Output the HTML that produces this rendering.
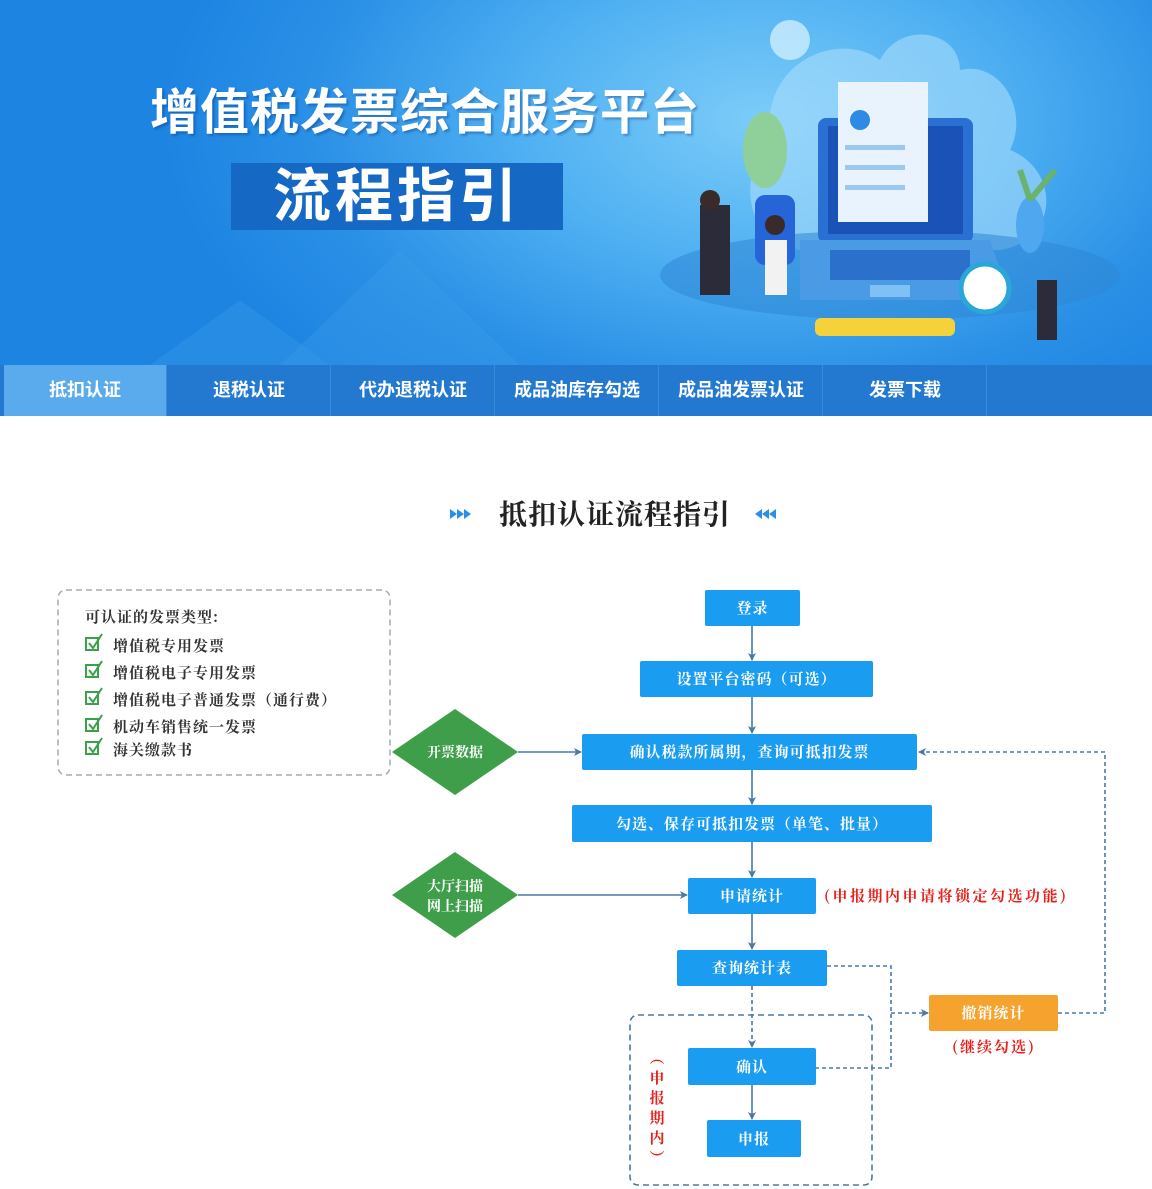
<!DOCTYPE html>
<html><head><meta charset="utf-8">
<style>
*{margin:0;padding:0;box-sizing:border-box}
body{width:1152px;height:1189px;background:#fff;position:relative;overflow:hidden;font-family:"Liberation Sans","Noto Sans CJK SC",sans-serif}
.banner{position:absolute;left:0;top:0;width:1152px;height:365px;background:radial-gradient(ellipse 600px 360px at 760px 120px,#7cccf8 0%,#4fb0f2 40%,#2a90e6 75%,#1d84e2 100%);overflow:hidden}
.t1{position:absolute;left:150px;top:73px;font-size:49px;color:#fff;font-weight:bold;letter-spacing:1px;text-shadow:2px 2px 2px rgba(0,40,120,.35)}
.t2{position:absolute;left:231px;top:163px;width:332px;height:67px;background:#1568c4;color:#fff;font-size:58px;font-weight:bold;text-align:center;line-height:67px;letter-spacing:4px}
.nav{position:absolute;left:0;top:365px;width:1152px;height:51px;background:#2379d0}
.nav div{position:absolute;top:0;height:51px;width:163px;color:#fff;font-size:18px;font-weight:bold;text-align:center;line-height:51px;border-right:1px solid #3b8ad8}
.sheet{position:absolute;left:0;top:0}
.box{position:absolute;background:#1a9cf0;color:#fff;font-family:"Noto Serif CJK SC",serif;font-weight:bold;font-size:15px;text-align:center;border-radius:2px;letter-spacing:1px}
.red{color:#e8201a;font-family:"Noto Serif CJK SC",serif;font-weight:bold;font-size:15px;position:absolute}
</style></head><body>
<div class="banner">
 <svg width="1152" height="365" style="position:absolute;left:0;top:0">
  <polygon points="280,365 400,250 520,365" fill="#3d9ee8" opacity=".35"/>
  <polygon points="150,365 240,300 330,365" fill="#3d9ee8" opacity=".3"/>
  <path d="M770,140 C760,60 840,30 880,60 C900,20 960,30 960,70 C1000,60 1030,110 1010,150 C1060,170 1060,240 1000,250 L800,250 C740,240 740,170 770,140Z" fill="#a6dcfb" opacity=".6"/>
  <circle cx="790" cy="40" r="20" fill="#cdeefe" opacity=".8"/>
  <ellipse cx="890" cy="275" rx="230" ry="45" fill="#2f86d6" opacity=".55"/>
  <rect x="818" y="118" width="155" height="125" rx="8" fill="#2a6fd2"/>
  <rect x="828" y="126" width="135" height="108" fill="#1a52b8"/>
  <rect x="838" y="82" width="90" height="140" fill="#e8f3fd"/>
  <circle cx="860" cy="120" r="10" fill="#2d8ae5"/>
  <rect x="845" y="145" width="60" height="5" fill="#9cc8f0"/><rect x="845" y="165" width="60" height="5" fill="#9cc8f0"/><rect x="845" y="185" width="60" height="5" fill="#9cc8f0"/>
  <polygon points="800,240 990,240 1010,300 800,300" fill="#4a9ae6"/>
  <rect x="830" y="250" width="140" height="30" fill="#1e5fc0" opacity=".7"/>
  <rect x="870" y="285" width="40" height="12" fill="#7fc0f5"/>
  <rect x="815" y="318" width="140" height="18" rx="6" fill="#f5d23a"/>
  <circle cx="985" cy="288" r="24" fill="#fff" stroke="#2aa7d9" stroke-width="5"/>
  <ellipse cx="765" cy="150" rx="22" ry="38" fill="#8fcf9a"/>
  <rect x="755" y="195" width="40" height="70" rx="10" fill="#2565d8"/>
  <rect x="700" y="205" width="30" height="90" fill="#2b2b3a"/>
  <circle cx="710" cy="200" r="10" fill="#3a2a2a"/>
  <rect x="765" y="240" width="22" height="55" fill="#f2f2f2"/>
  <circle cx="775" cy="225" r="10" fill="#3a2a2a"/>
  <rect x="1037" y="280" width="20" height="60" fill="#2b2b3a"/>
  <ellipse cx="1030" cy="225" rx="14" ry="28" fill="#4fa7ef"/>
  <path d="M1030,200 L1020,170 M1030,200 L1055,170" stroke="#6ab36f" stroke-width="6"/>
 </svg>
 <div class="t1">增值税发票综合服务平台</div>
 <div class="t2">流程指引</div>
</div>
<div class="nav">
 <div style="left:4px;background:#5aabee">抵扣认证</div>
 <div style="left:168px">退税认证</div>
 <div style="left:332px">代办退税认证</div>
 <div style="left:496px">成品油库存勾选</div>
 <div style="left:660px">成品油发票认证</div>
 <div style="left:824px">发票下载</div>
</div>

<svg class="sheet" width="1152" height="1189">
 <defs>
  <marker id="a" markerWidth="8" markerHeight="8" refX="7" refY="4" orient="auto" markerUnits="userSpaceOnUse"><path d="M0,0 L8,4 L0,8 L2,4Z" fill="#4a78a8"/></marker>
 </defs>
 <g fill="#2a8fe8"><polygon points="450,509 457,514 450,519"/><polygon points="457,509 464,514 457,519"/><polygon points="464,509 471,514 464,519"/>
 <polygon points="762,509 755,514 762,519"/><polygon points="769,509 762,514 769,519"/><polygon points="776,509 769,514 776,519"/></g>
 <text x="615" y="524" text-anchor="middle" font-family="Noto Serif CJK SC,serif" font-weight="bold" font-size="28" fill="#222" letter-spacing="1">抵扣认证流程指引</text>
 <rect x="58" y="590" width="332" height="185" rx="8" fill="none" stroke="#aaa" stroke-width="1.5" stroke-dasharray="6,4"/>
 <g font-family="Noto Serif CJK SC,serif" font-weight="bold" font-size="15" fill="#333" letter-spacing="1">
  <text x="85" y="622">可认证的发票类型:</text>
  <text x="113" y="651">增值税专用发票</text>
  <text x="113" y="678">增值税电子专用发票</text>
  <text x="113" y="705">增值税电子普通发票（通行费）</text>
  <text x="113" y="732">机动车销售统一发票</text>
  <text x="113" y="755">海关缴款书</text>
 </g>
 <g stroke="#3aa04a" stroke-width="2" fill="none">
  <rect x="86" y="638" width="12" height="12"/><path d="M89,643 L93,648 L102,634"/>
  <rect x="86" y="665" width="12" height="12"/><path d="M89,670 L93,675 L102,661"/>
  <rect x="86" y="692" width="12" height="12"/><path d="M89,697 L93,702 L102,688"/>
  <rect x="86" y="719" width="12" height="12"/><path d="M89,724 L93,729 L102,715"/>
  <rect x="86" y="742" width="12" height="12"/><path d="M89,747 L93,752 L102,738"/>
 </g>
 <polygon points="455,709 518,752 455,795 392,752" fill="#3e9e4a"/>
 <polygon points="455,852 518,895 455,938 392,895" fill="#3e9e4a"/>
 <g font-family="Noto Serif CJK SC,serif" font-weight="bold" font-size="14" fill="#fff" text-anchor="middle">
  <text x="455" y="757">开票数据</text>
  <text x="455" y="891">大厅扫描</text><text x="455" y="911">网上扫描</text>
 </g>
 <g stroke="#4a78a8" stroke-width="1.6" fill="none">
  <line x1="752" y1="626" x2="752" y2="660" marker-end="url(#a)"/>
  <line x1="752" y1="697" x2="752" y2="733" marker-end="url(#a)"/>
  <line x1="752" y1="770" x2="752" y2="804" marker-end="url(#a)"/>
  <line x1="752" y1="842" x2="752" y2="877" marker-end="url(#a)"/>
  <line x1="752" y1="914" x2="752" y2="949" marker-end="url(#a)"/>
  <line x1="752" y1="1085" x2="752" y2="1119" marker-end="url(#a)"/>
  <line x1="518" y1="752" x2="581" y2="752" marker-end="url(#a)"/>
  <line x1="518" y1="895" x2="687" y2="895" marker-end="url(#a)"/>
 </g>
 <g stroke="#4a78a8" stroke-width="1.6" fill="none" stroke-dasharray="4,3">
  <line x1="752" y1="986" x2="752" y2="1047" marker-end="url(#a)"/>
  <polyline points="827,966 891,966 891,1068 816,1068"/>
  <line x1="891" y1="1013" x2="928" y2="1013" marker-end="url(#a)"/>
  <polyline points="1058,1013 1105,1013 1105,752 919,752" marker-end="url(#a)"/>
  <rect x="630" y="1015" width="242" height="170" rx="8" stroke-dasharray="6,4"/>
 </g>
</svg>
<div class="box" style="left:705px;top:590px;width:95px;height:36px;line-height:36px">登录</div>
<div class="box" style="left:640px;top:661px;width:233px;height:36px;line-height:36px">设置平台密码（可选）</div>
<div class="box" style="left:582px;top:734px;width:335px;height:36px;line-height:36px">确认税款所属期，查询可抵扣发票</div>
<div class="box" style="left:572px;top:805px;width:360px;height:37px;line-height:37px">勾选、保存可抵扣发票（单笔、批量）</div>
<div class="box" style="left:688px;top:878px;width:128px;height:36px;line-height:36px">申请统计</div>
<div class="box" style="left:677px;top:950px;width:150px;height:36px;line-height:36px">查询统计表</div>
<div class="box" style="left:929px;top:995px;width:129px;height:36px;line-height:36px;background:#f5a32e">撤销统计</div>
<div class="box" style="left:688px;top:1048px;width:128px;height:37px;line-height:37px">确认</div>
<div class="box" style="left:707px;top:1120px;width:94px;height:37px;line-height:37px">申报</div>
<div class="red" style="left:824px;top:885px;letter-spacing:2.5px">(申报期内申请将锁定勾选功能)</div>
<div class="red" style="left:952px;top:1036px;letter-spacing:2px">(继续勾选)</div>
<div class="red" style="left:648px;top:1048px;width:18px;line-height:20px;text-align:center">︵<br>申<br>报<br>期<br>内<br>︶</div>
</body></html>
